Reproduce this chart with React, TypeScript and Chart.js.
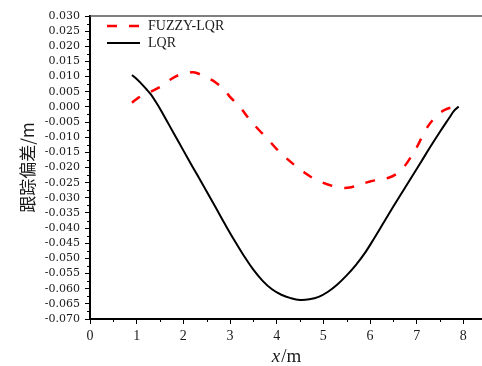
import { useEffect, useRef } from 'react';
import { Chart, registerables } from 'chart.js';

Chart.register(...registerables);

// ---- data ----
const seriesLabels = ['FUZZY-LQR', 'LQR'];

const fuzzyX = [0.9, 1.0, 1.1, 1.2, 1.3, 1.5, 1.7, 1.9, 2.1, 2.2, 2.3, 2.5, 2.7, 2.9, 3.0, 3.2, 3.4, 3.6, 3.8, 4.0, 4.2, 4.4, 4.6, 4.8, 5.0, 5.2, 5.4, 5.6, 5.8, 6.0, 6.2, 6.4, 6.6, 6.7, 6.8, 7.0, 7.2, 7.4, 7.6, 7.8, 7.86];
const fuzzyY = [0.0014, 0.0026, 0.0036, 0.0043, 0.0050, 0.0066, 0.0088, 0.0105, 0.0112, 0.0114, 0.0111, 0.0097, 0.0080, 0.0053, 0.0033, 0.0002, -0.0038, -0.0073, -0.0105, -0.0139, -0.0168, -0.0194, -0.0217, -0.0237, -0.0251, -0.0261, -0.0267, -0.0265, -0.0256, -0.0246, -0.0240, -0.0234, -0.0218, -0.0203, -0.0183, -0.0134, -0.0074, -0.0034, -0.0010, 0.0000, 0.0002];

const lqrX = [0.9, 1.0, 1.1, 1.2, 1.3, 1.4, 1.5, 1.7, 1.9, 2.1, 2.3, 2.5, 2.7, 2.9, 3.1, 3.3, 3.5, 3.7, 3.9, 4.1, 4.3, 4.5, 4.7, 4.9, 5.1, 5.3, 5.5, 5.7, 5.9, 6.1, 6.3, 6.5, 6.7, 6.9, 7.1, 7.3, 7.5, 7.7, 7.8, 7.9];
const lqrY = [0.0105, 0.0092, 0.0077, 0.0060, 0.0042, 0.0019, -0.0006, -0.0061, -0.0116, -0.0171, -0.0225, -0.0279, -0.0334, -0.0389, -0.0442, -0.0492, -0.0537, -0.0574, -0.0602, -0.0620, -0.0631, -0.0637, -0.0635, -0.0627, -0.0610, -0.0586, -0.0556, -0.0521, -0.0480, -0.0431, -0.0380, -0.0329, -0.0279, -0.0230, -0.0180, -0.0130, -0.0082, -0.0036, -0.0013, 0.0001];

const xMin = 0;
const xMax = 8.4;
const xStep = 1;
const xMinorStep = 0.5;
const yMin = -0.07;
const yMax = 0.03;
const yStep = 0.005;
const yMinorStep = 0.0025;

const xTitleVar = 'x';
const xTitleUnit = '/m';
const yTitle = '跟踪偏差/m';

const RED = '#ff0000';
const BLACK = '#000000';
const TEXT = '#1a1a1a';
const RED_DASH = [10, 12];

const decorPlugin = {
  id: 'decor',
  afterDraw(chart: any) {
    const { ctx, chartArea, scales } = chart;
    const { left, right, top, bottom } = chartArea;
    ctx.save();
    // top frame line
    ctx.strokeStyle = '#555';
    ctx.lineWidth = 1.5;
    ctx.beginPath();
    ctx.moveTo(left, top);
    ctx.lineTo(right, top);
    ctx.stroke();

    // minor ticks
    ctx.strokeStyle = '#000';
    ctx.lineWidth = 1;
    const ys = scales.y;
    const nY = Math.round((yMax - yMin) / yMinorStep);
    for (let i = 0; i <= nY; i++) {
      if (i % 2 === 0) continue;
      const v = yMin + i * yMinorStep;
      const p = Math.round(ys.getPixelForValue(v)) + 0.5;
      ctx.beginPath();
      ctx.moveTo(left - 3, p);
      ctx.lineTo(left, p);
      ctx.stroke();
    }
    const xs = scales.x;
    for (let v = xMinorStep; v < xMax; v += xMinorStep * 2) {
      const p = Math.round(xs.getPixelForValue(v)) + 0.5;
      ctx.beginPath();
      ctx.moveTo(p, bottom);
      ctx.lineTo(p, bottom + 3);
      ctx.stroke();
    }

    // legend
    const ds = chart.data.datasets;
    const lx0 = left + 17;
    const lx1 = left + 50;
    const rows = [26, 43];
    ctx.font = '14px "Liberation Serif"';
    ctx.textBaseline = 'middle';
    ctx.textAlign = 'left';
    ds.forEach((d: any, i: number) => {
      const y = rows[i];
      ctx.save();
      ctx.strokeStyle = d.borderColor;
      ctx.lineWidth = d.borderWidth;
      ctx.setLineDash(d.borderDash || []);
      ctx.beginPath();
      ctx.moveTo(lx0, y);
      ctx.lineTo(lx1, y);
      ctx.stroke();
      ctx.restore();
      ctx.fillStyle = TEXT;
      ctx.fillText(d.label, left + 58, y + 0.5);
    });

    // x title with italic variable
    const cx = (left + right) / 2;
    const base = 362;
    ctx.textBaseline = 'alphabetic';
    const fItal = 'italic 19px "Liberation Serif"';
    const fReg = '19px "Liberation Serif"';
    ctx.font = fItal;
    const w1 = ctx.measureText(xTitleVar).width;
    ctx.font = fReg;
    const w2 = ctx.measureText(xTitleUnit).width;
    const sx = cx - (w1 + w2) / 2;
    ctx.fillStyle = TEXT;
    ctx.font = fItal;
    ctx.fillText(xTitleVar, sx, base);
    ctx.font = fReg;
    ctx.fillText(xTitleUnit, sx + w1 + 1, base);

    // y title
    ctx.translate(28, (top + bottom) / 2);
    ctx.rotate(-Math.PI / 2);
    ctx.textAlign = 'center';
    ctx.textBaseline = 'middle';
    ctx.font = '17px "Noto Sans CJK SC"';
    ctx.fillText(yTitle, 0, 0);
    ctx.restore();
  },
};

export default function App() {
  const canvasRef = useRef<HTMLCanvasElement | null>(null);

  useEffect(() => {
    const canvas = canvasRef.current;
    if (!canvas) return;
    const chart = new Chart(canvas, {
      type: 'line',
      data: {
        datasets: [
          {
            label: seriesLabels[0],
            data: fuzzyX.map((x, i) => ({ x, y: fuzzyY[i] })),
            borderColor: RED,
            borderWidth: 2.5,
            borderDash: RED_DASH,
            pointRadius: 0,
            fill: false,
            tension: 0.4,
          },
          {
            label: seriesLabels[1],
            data: lqrX.map((x, i) => ({ x, y: lqrY[i] })),
            borderColor: BLACK,
            borderWidth: 2,
            pointRadius: 0,
            fill: false,
            tension: 0.4,
          },
        ],
      },
      options: {
        animation: false,
        responsive: false,
        events: [],
        layout: { padding: { top: 16, right: 0, left: 0, bottom: 0 } },
        plugins: {
          legend: { display: false },
          tooltip: { enabled: false },
          title: { display: false },
        },
        scales: {
          x: {
            type: 'linear',
            min: xMin,
            max: xMax,
            ticks: {
              stepSize: xStep,
              includeBounds: false,
              autoSkip: false,
              maxRotation: 0,
              padding: 4,
              color: TEXT,
              font: { family: 'Liberation Serif', size: 14 },
            },
            grid: {
              drawOnChartArea: false,
              drawTicks: true,
              tickLength: 5,
              tickColor: '#000',
              tickWidth: 1,
            },
            border: { display: true, color: '#000', width: 2 },
            afterFit: (s: any) => {
              s.height = 47;
            },
          },
          y: {
            type: 'linear',
            min: yMin,
            max: yMax,
            ticks: {
              stepSize: yStep,
              autoSkip: false,
              padding: 5,
              color: TEXT,
              font: { family: 'DejaVu Serif', size: 11 },
              callback: (v: any) => {
                const n = Number(v);
                if (Math.abs(n) < 1e-9) return '0.000';
                return n.toFixed(3);
              },
            },
            grid: {
              drawOnChartArea: false,
              drawTicks: true,
              tickLength: 5,
              tickColor: '#000',
              tickWidth: 1,
            },
            border: { display: true, color: '#000', width: 2 },
            afterFit: (s: any) => {
              s.width = 90;
            },
          },
        },
      } as any,
      plugins: [decorPlugin],
    });
    return () => chart.destroy();
  }, []);

  return (
    <div style={{ position: 'fixed', left: 0, top: 0, width: 482, height: 366, background: '#fff' }}>
      <canvas ref={canvasRef} width={482} height={366} style={{ display: 'block' }} />
    </div>
  );
}
